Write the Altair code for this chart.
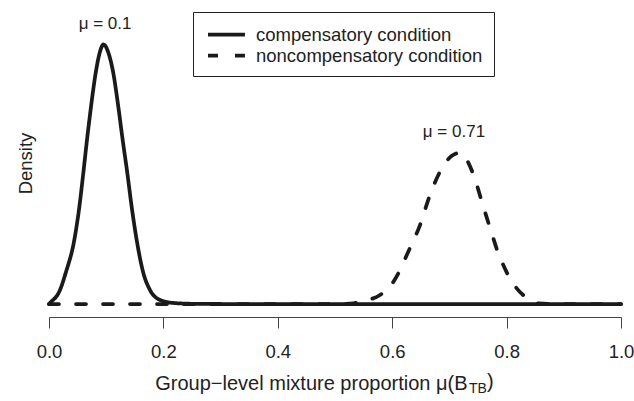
import altair as alt
import pandas as pd

# ---- data ----
conditions = ["compensatory condition", "noncompensatory condition"]

comp_x = [0.0, 0.0017, 0.0192, 0.0292, 0.0442, 0.0530, 0.0600, 0.0664, 0.0734,
          0.0816, 0.0880, 0.0953, 0.1040, 0.1124, 0.1212, 0.1288, 0.1369,
          0.1446, 0.1533, 0.1649, 0.1766, 0.1941, 0.2168, 0.2500, 0.3000, 1.0]
comp_y = [0.0, 0.05, 0.65, 1.45, 2.98, 4.52, 6.11, 7.65, 9.19,
          10.77, 11.65, 12.10, 11.70, 10.77, 9.19, 7.65, 6.11,
          4.52, 2.98, 1.45, 0.65, 0.19, 0.05, 0.01, 0.0, 0.0]

noncomp_x = [0.0, 0.50, 0.532, 0.5437, 0.5787, 0.5962, 0.6107, 0.6281, 0.6486,
             0.6649, 0.6836, 0.6923, 0.7050, 0.7197, 0.7273, 0.7418, 0.7593,
             0.7740, 0.7855, 0.7942, 0.8089, 0.8176, 0.8409, 0.8555, 0.8800, 1.0]
noncomp_y = [0.0, 0.0, 0.03, 0.11, 0.42, 0.81, 1.43, 2.44, 3.68,
             5.00, 6.17, 6.56, 6.92, 7.06, 6.85, 6.05, 4.54,
             3.30, 2.36, 1.82, 1.04, 0.73, 0.19, 0.03, 0.0, 0.0]

x_ticks = [0.0, 0.2, 0.4, 0.6, 0.8, 1.0]

ann_labels = ["\u03bc = 0.1", "\u03bc = 0.71"]
ann_x = [0.098, 0.708]
ann_y = [13.05, 8.0]

# ---- tables ----
df = pd.concat([
    pd.DataFrame({"x": comp_x, "density": comp_y, "condition": conditions[0]}),
    pd.DataFrame({"x": noncomp_x, "density": noncomp_y, "condition": conditions[1]}),
], ignore_index=True)
ann_df = pd.DataFrame({"x": ann_x, "y": ann_y, "label": ann_labels})

# ---- layout ----
W, H = 572, 317
px_per_unit = 259.5 / 12.10
y_lo = -13 / px_per_unit
y_hi = y_lo + H / px_per_unit

FONT = "Liberation Sans"
INK = "#222222"
FS = 18.5
TFS = 20

lines = alt.Chart(df).mark_line(
    strokeWidth=3.75, color="#1a1a1a", strokeCap="round", strokeJoin="round",
    interpolate="monotone", clip=False
).encode(
    x=alt.X("x:Q",
            scale=alt.Scale(domain=[0, 1], nice=False, zero=False),
            axis=alt.Axis(values=x_ticks, format=".1f", grid=False,
                          title="Group\u2212level mixture proportion \u03bc(B",
                          titleAlign="right", titleAnchor="start", titleX=418, titleY=72,
                          titleBaseline="alphabetic", titleFontSize=TFS,
                          titleFontWeight="normal", titleFont=FONT, titleColor=INK,
                          labelFontSize=FS, labelFont=FONT, labelColor=INK,
                          labelFlush=False, labelPadding=14, tickSize=11,
                          domainColor="#444444", tickColor="#444444",
                          domainWidth=1, tickWidth=1)),
    y=alt.Y("density:Q",
            scale=alt.Scale(domain=[y_lo, y_hi], nice=False, zero=False),
            axis=alt.Axis(title="Density", domain=False, ticks=False, labels=False,
                          grid=False, titleX=-24, titleY=163, titleAngle=270,
                          titleAlign="center", titleBaseline="middle",
                          titleFontSize=FS, titleFontWeight="normal",
                          titleFont=FONT, titleColor=INK)),
    strokeDash=alt.StrokeDash(
        "condition:N",
        scale=alt.Scale(domain=conditions, range=[[1, 0], [10, 17]]),
        legend=alt.Legend(title=None, orient="none", legendX=144, legendY=12,
                          strokeColor=INK, padding=11,
                          symbolType="M-0.79,0H3.1",
                          symbolSize=361, symbolStrokeWidth=3.75,
                          symbolStrokeColor="#1a1a1a",
                          symbolFillColor="transparent",
                          labelFontSize=FS,
                          labelFont=FONT, labelColor=INK, labelOffset=29,
                          labelLimit=400, rowPadding=0)),
)

ann = alt.Chart(ann_df).mark_text(
    fontSize=17, font=FONT, color=INK, baseline="middle", align="center"
).encode(x="x:Q", y="y:Q", text="label:N")

sub_df = pd.DataFrame({"t": ["TB"]})
sub = alt.Chart(sub_df).mark_text(
    fontSize=14, font=FONT, color=INK, align="left", baseline="alphabetic"
).encode(x=alt.value(420), y=alt.value(393), text="t:N")

paren_df = pd.DataFrame({"t": [")"]})
paren = alt.Chart(paren_df).mark_text(
    fontSize=TFS, font=FONT, color=INK, align="left", baseline="alphabetic"
).encode(x=alt.value(438), y=alt.value(388), text="t:N")

chart = alt.layer(lines, ann, sub, paren).properties(
    width=W, height=H,
    autosize=alt.AutoSizeParams(type="none"),
    padding={"left": 49, "top": 0, "right": 13, "bottom": 84},
    background="white",
).configure_view(stroke=None)

chart.save("out.html", embed_options={"renderer": "svg", "actions": False})
